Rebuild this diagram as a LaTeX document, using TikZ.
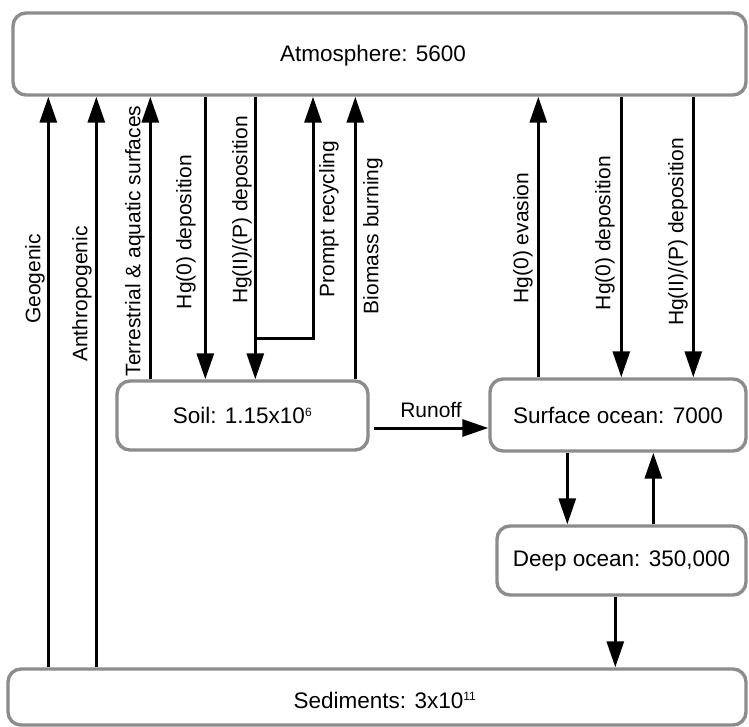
\documentclass[tikz,border=0pt]{standalone}
\usepackage{fontspec}
\setmainfont{Liberation Sans}
\usetikzlibrary{arrows.meta,calc}
\tikzset{
  box/.style={draw=black!45, line width=3.4pt, rounded corners=13pt, fill=white,
    font=\fontsize{22.5}{27}\selectfont, inner sep=0pt},
  arr/.style={line width=3pt, -{Triangle[length=26pt,width=17pt]}},
  flow/.style={line width=3pt},
  lbl/.style={rotate=90, font=\fontsize{21}{25}\selectfont, inner sep=0pt},
  hlbl/.style={font=\fontsize{21}{25}\selectfont, inner sep=0pt}
}
\begin{document}
\begin{tikzpicture}[x=1pt,y=-1pt]
\useasboundingbox (0,0) rectangle (749,726);
% boxes
\node[box, minimum width=733pt, minimum height=82pt] (atm) at (379.5,54) {};
\node[font=\fontsize{22.5}{27}\selectfont] (atmtext) at (373,56) {Atmosphere: 5600};
\node[box, minimum width=251pt, minimum height=69pt] (soil) at (242.5,415.5) {Soil: 1.15x10\textsuperscript{\fontsize{12}{12}\selectfont 6}};
\node[box, minimum width=256pt, minimum height=72pt] (surf) at (618,415) {Surface ocean: 7000};
\node[box, minimum width=249pt, minimum height=69pt] (deep) at (621.5,560.5) {Deep ocean: 350,000};
\node[box, minimum width=738pt, minimum height=56pt] (sed) at (377,697) {};
\node[font=\fontsize{22.5}{27}\selectfont] (sedtext) at (385,700) {Sediments: 3x10\textsuperscript{\fontsize{12}{12}\selectfont 11}};
% vertical flows
\draw[arr] ([xshift=42pt]sed.north west) -- ([xshift=37pt]atm.south west);
\draw[arr] ([xshift=90pt]sed.north west) -- ([xshift=85pt]atm.south west);
\draw[arr] ([xshift=35pt]soil.north west) -- ([xshift=139pt]atm.south west);
\draw[arr] ([xshift=194pt]atm.south west) -- ([xshift=90pt]soil.north west);
\draw[arr] ([xshift=244pt]atm.south west) -- ([xshift=140pt]soil.north west);
\coordinate (br) at (257,338);
\coordinate (bk) at (313,338);
\draw[flow] (br) -- (bk);
\draw[arr] ([yshift=-1.5pt]bk) -- (bk |- atm.south);
\draw[arr] ([xshift=240pt]soil.north west) -- ([xshift=344pt]atm.south west);
\draw[arr] ([xshift=50pt]surf.north west) -- ([xshift=527pt]atm.south west);
\draw[arr] ([xshift=610pt]atm.south west) -- ([xshift=133pt]surf.north west);
\draw[arr] ([xshift=682pt]atm.south west) -- ([xshift=205pt]surf.north west);
% runoff
\coordinate (r1) at ($(soil.east)+(4,12.5)$);
\draw[arr] (r1) -- (surf.west |- r1);
\node[hlbl] (runoff) at (431,410) {Runoff};
% ocean exchange
\draw[arr] ([xshift=79pt]surf.south west) -- ([xshift=72pt]deep.north west);
\draw[arr] ([xshift=158pt]deep.north west) -- ([xshift=165pt]surf.south west);
\draw[arr] ([xshift=120pt]deep.south west) -- ([xshift=609pt]sed.north west);
% labels
\node[lbl] (l1) at (35,279) {Geogenic};
\node[lbl] (l2) at (82,294) {Anthropogenic};
\node[lbl] (l3) at (135,241) {Terrestrial \& aquatic surfaces};
\node[lbl] (l4) at (186,232) {Hg(0) deposition};
\node[lbl] (l5) at (242,210) {Hg(II)/(P) deposition};
\node[lbl] (l6) at (329,219) {Prompt recycling};
\node[lbl] (l7) at (373,236) {Biomass burning};
\node[lbl] (l8) at (523,238) {Hg(0) evasion};
\node[lbl] (l9) at (605,233) {Hg(0) deposition};
\node[lbl] (l10) at (678,232) {Hg(II)/(P) deposition};
\end{tikzpicture}
\end{document}
